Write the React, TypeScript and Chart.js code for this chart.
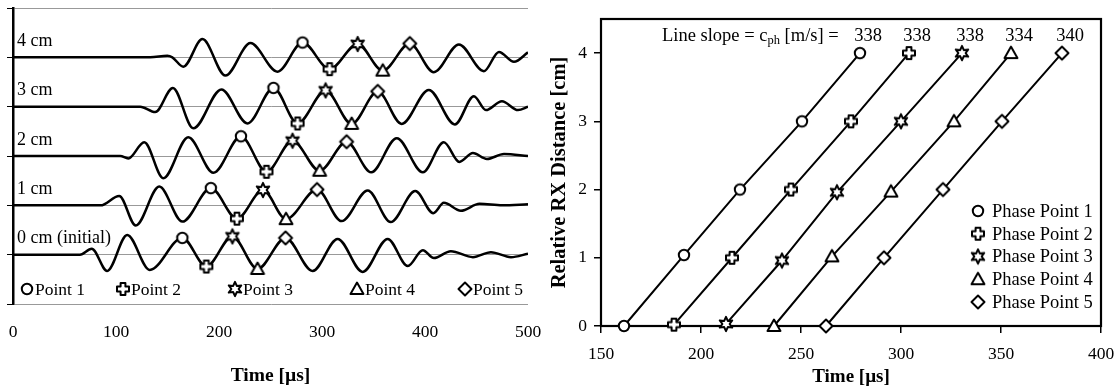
import React, { useEffect, useRef } from 'react';
import { Chart, registerables } from 'chart.js';

Chart.register(...registerables);

const FONT = "'Liberation Serif', 'Times New Roman', serif";

// ---------- Left panel: received waveforms ----------
const TRACE_LABELS = ['0 cm (initial)', '1 cm', '2 cm', '3 cm', '4 cm'];
const TRACE_OFFSETS = [0, 1, 2, 3, 4];
const LEFT_X_TICKS = [0, 100, 200, 300, 400, 500];

const WAVE_0CM_T = [0, 65, 76.4, 91.4, 110.9, 132.8, 164.4, 187.7, 213, 237.4, 264.6, 290.9, 315.2, 339.5, 363.8, 383.3, 397.9, 408.6, 425.1, 446.5, 464, 483.5, 500];
const WAVE_0CM_V = [0, 0, 0.12, -0.33, 0.4, -0.31, 0.34, -0.24, 0.37, -0.29, 0.34, -0.33, 0.32, -0.35, 0.32, -0.23, 0.09, -0.07, 0.07, -0.05, 0.05, -0.05, 0.02];

const WAVE_1CM_T = [0, 85, 103.1, 119.2, 142, 164.4, 192.1, 217.4, 242.7, 265.1, 295.2, 319.1, 344.4, 366.7, 390.6, 408.1, 418.3, 434.8, 453, 475, 500];
const WAVE_1CM_V = [0, 0, 0.19, -0.41, 0.38, -0.33, 0.35, -0.27, 0.31, -0.28, 0.32, -0.32, 0.3, -0.34, 0.29, -0.16, 0.05, -0.11, 0.03, 0, 0.02];

const WAVE_2CM_T = [0, 104.1, 111.9, 127.4, 145.9, 170.2, 194.6, 221.3, 246.1, 271.4, 297.7, 323.9, 347.8, 372.6, 397.9, 418.3, 433.4, 446.5, 460.1, 476.7, 500];
const WAVE_2CM_V = [0, 0, -0.05, 0.28, -0.45, 0.38, -0.34, 0.4, -0.32, 0.31, -0.3, 0.29, -0.33, 0.36, -0.33, 0.28, -0.12, 0.06, -0.06, 0.04, 0];

const WAVE_3CM_T = [0, 123.5, 138.1, 155.2, 175.1, 202.3, 227.6, 252.9, 276.3, 303.5, 328.8, 354.1, 377.4, 403.7, 429, 447.5, 459.1, 474.7, 490.3, 500];
const WAVE_3CM_V = [0, 0, -0.11, 0.38, -0.44, 0.35, -0.34, 0.38, -0.34, 0.33, -0.35, 0.31, -0.35, 0.34, -0.36, 0.21, -0.07, 0.11, -0.07, 0];

const WAVE_4CM_T = [0, 133.3, 149.8, 154.7, 165.4, 183.9, 206.2, 230.5, 256.8, 281.1, 307.4, 334.6, 359, 385.2, 408.6, 432.9, 457.2, 471.8, 486.4, 500];
const WAVE_4CM_V = [0, 0, 0.03, 0, -0.19, 0.37, -0.37, 0.29, -0.29, 0.3, -0.24, 0.27, -0.27, 0.28, -0.3, 0.26, -0.28, 0.11, -0.09, 0.1];

const TRACE_T = [WAVE_0CM_T, WAVE_1CM_T, WAVE_2CM_T, WAVE_3CM_T, WAVE_4CM_T];
const TRACE_V = [WAVE_0CM_V, WAVE_1CM_V, WAVE_2CM_V, WAVE_3CM_V, WAVE_4CM_V];

// phase-point markers on the waveforms (one per trace, 0 cm .. 4 cm)
const LEFT_P1_T = [164.4, 192.1, 221.3, 252.9, 281.1];
const LEFT_P1_V = [0.34, 0.35, 0.4, 0.38, 0.3];
const LEFT_P2_T = [187.7, 217.4, 246.1, 276.3, 307.4];
const LEFT_P2_V = [-0.24, -0.27, -0.32, -0.34, -0.24];
const LEFT_P3_T = [213, 242.7, 271.4, 303.5, 334.6];
const LEFT_P3_V = [0.37, 0.31, 0.31, 0.33, 0.27];
const LEFT_P4_T = [237.4, 265.1, 297.7, 328.8, 359];
const LEFT_P4_V = [-0.29, -0.28, -0.3, -0.35, -0.27];
const LEFT_P5_T = [264.6, 295.2, 323.9, 354.1, 385.2];
const LEFT_P5_V = [0.34, 0.32, 0.29, 0.31, 0.28];
const LEFT_MARK_T = [LEFT_P1_T, LEFT_P2_T, LEFT_P3_T, LEFT_P4_T, LEFT_P5_T];
const LEFT_MARK_V = [LEFT_P1_V, LEFT_P2_V, LEFT_P3_V, LEFT_P4_V, LEFT_P5_V];
const LEFT_LEGEND = ['Point 1', 'Point 2', 'Point 3', 'Point 4', 'Point 5'];

// ---------- Right panel: phase point arrival times ----------
const PP1_T = [161.5, 191.5, 219.5, 250.5, 279.5];
const PP1_D = [0, 1.04, 2, 3, 4];
const PP2_T = [186.5, 215.5, 245, 275, 304];
const PP2_D = [0.02, 1, 2, 3, 4];
const PP3_T = [212.5, 240.5, 268, 300, 330.5];
const PP3_D = [0.03, 0.96, 1.96, 3, 4];
const PP4_T = [236.5, 265.5, 295, 326.5, 355];
const PP4_D = [0, 1.02, 1.97, 3, 4];
const PP5_T = [262.5, 291.5, 321, 350.5, 380.5];
const PP5_D = [0, 1, 2, 3, 4];
const PP_T = [PP1_T, PP2_T, PP3_T, PP4_T, PP5_T];
const PP_D = [PP1_D, PP2_D, PP3_D, PP4_D, PP5_D];
const SLOPES = [338, 338, 338, 334, 340];
const RIGHT_LEGEND = ['Phase Point 1', 'Phase Point 2', 'Phase Point 3', 'Phase Point 4', 'Phase Point 5'];

const MARKER_KINDS = ['circle', 'cross', 'star', 'triangle', 'diamond'];

function makeMarker(kind: string): HTMLCanvasElement {
  const c = document.createElement('canvas');
  c.width = 18;
  c.height = 18;
  const g = c.getContext('2d') as CanvasRenderingContext2D;
  g.translate(9, 9);
  g.lineWidth = 2;
  g.strokeStyle = '#000';
  g.fillStyle = '#fff';
  g.lineJoin = 'round';
  g.beginPath();
  const poly = (pts: number[][]) => {
    g.moveTo(pts[0][0], pts[0][1]);
    for (let i = 1; i < pts.length; i++) g.lineTo(pts[i][0], pts[i][1]);
    g.closePath();
  };
  if (kind === 'circle') {
    g.arc(0, 0, 5.2, 0, Math.PI * 2);
  } else if (kind === 'cross') {
    const s = 6, a = 2.4;
    poly([[-a, -s], [a, -s], [a, -a], [s, -a], [s, a], [a, a], [a, s], [-a, s], [-a, a], [-s, a], [-s, -a], [-a, -a]]);
  } else if (kind === 'star') {
    const pts: number[][] = [];
    for (let i = 0; i < 12; i++) {
      const r = i % 2 === 0 ? 7.2 : 3.6;
      const ang = -Math.PI / 2 + (i * Math.PI) / 6;
      pts.push([r * Math.cos(ang), r * Math.sin(ang)]);
    }
    poly(pts);
  } else if (kind === 'triangle') {
    poly([[0, -6.5], [6.5, 5], [-6.5, 5]]);
  } else {
    poly([[0, -6.5], [6.5, 0], [0, 6.5], [-6.5, 0]]);
  }
  g.fill();
  g.stroke();
  return c;
}

const noHPad = (scale: any) => {
  scale.paddingLeft = 0;
  scale.paddingRight = 0;
};
const noVPad = (scale: any) => {
  scale.paddingTop = 0;
  scale.paddingBottom = 0;
};

export default function App() {
  const leftRef = useRef<HTMLCanvasElement>(null);
  const rightRef = useRef<HTMLCanvasElement>(null);

  useEffect(() => {
    const markers = MARKER_KINDS.map(makeMarker);

    // ----- left chart -----
    const leftDatasets: any[] = [];
    LEFT_MARK_T.forEach((ts, k) => {
      leftDatasets.push({
        type: 'line',
        data: ts.map((t, i) => ({ x: t, y: TRACE_OFFSETS[i] + LEFT_MARK_V[k][i] })),
        showLine: false,
        pointStyle: markers[k],
        pointRadius: 6,
        order: 0,
        clip: false,
      });
    });
    TRACE_T.forEach((ts, i) => {
      leftDatasets.push({
        type: 'line',
        data: ts.map((t, j) => ({ x: t, y: TRACE_OFFSETS[i] + TRACE_V[i][j] })),
        borderColor: '#000',
        borderWidth: 2.5,
        pointRadius: 0,
        cubicInterpolationMode: 'monotone',
        fill: false,
        order: 1,
      });
    });

    const leftDecor = {
      id: 'leftDecor',
      afterDraw(chart: any) {
        const { ctx, chartArea } = chart;
        const y = chart.scales.y;
        ctx.save();
        ctx.fillStyle = '#000';
        ctx.textBaseline = 'middle';
        ctx.textAlign = 'left';
        ctx.font = `18px ${FONT}`;
        TRACE_LABELS.forEach((lab, i) => {
          ctx.fillText(lab, chartArea.left + 4, y.getPixelForValue(TRACE_OFFSETS[i]) - 16);
        });
        ctx.font = `17.5px ${FONT}`;
        const ly = chartArea.bottom - 15;
        const lx = [14, 110, 222, 344, 452];
        LEFT_LEGEND.forEach((lab, k) => {
          const mx = chartArea.left + lx[k];
          ctx.drawImage(markers[k], mx - 9, ly - 9);
          ctx.fillText(lab, mx + 8, ly + 1);
        });
        ctx.restore();
      },
    };

    const left = new Chart(leftRef.current as HTMLCanvasElement, {
      type: 'line',
      data: { datasets: leftDatasets },
      options: {
        animation: false,
        responsive: false,
        devicePixelRatio: 1,
        layout: { padding: { left: 0, right: 17, top: 8, bottom: 0 } },
        plugins: { legend: { display: false }, tooltip: { enabled: false } },
        scales: {
          x: {
            type: 'linear',
            min: 0,
            max: 500,
            afterBuildTicks: (scale: any) => {
              scale.ticks = LEFT_X_TICKS.map((v) => ({ value: v }));
            },
            afterFit: (scale: any) => {
              scale.height = 86;
              noHPad(scale);
            },
            grid: { display: false, drawTicks: false },
            border: { display: false },
            ticks: { color: '#000', font: { family: FONT, size: 17.5 }, padding: 18, maxRotation: 0 },
            title: {
              display: true,
              text: 'Time [µs]',
              color: '#000',
              font: { family: FONT, size: 19.5, weight: 'bold' },
              padding: { top: 0, bottom: 2 },
            },
          },
          y: {
            type: 'linear',
            min: -1,
            max: 5,
            ticks: { display: false, stepSize: 1 },
            afterFit: (scale: any) => {
              scale.width = 13;
              noVPad(scale);
            },
            grid: { color: '#999', lineWidth: 1, tickColor: '#000', tickLength: 6, drawTicks: true },
            border: { display: true, color: '#000', width: 2.5 },
          },
        },
      },
      plugins: [leftDecor],
    } as any);

    // ----- right chart -----
    const rightDatasets = PP_T.map((ts, k) => ({
      type: 'line',
      data: ts.map((t, i) => ({ x: t, y: PP_D[k][i] })),
      borderColor: '#000',
      borderWidth: 2,
      pointStyle: markers[k],
      pointRadius: 6,
      fill: false,
      tension: 0,
      clip: false,
    }));

    const rightDecor = {
      id: 'rightDecor',
      beforeDatasetsDraw(chart: any) {
        const { ctx, chartArea } = chart;
        ctx.save();
        ctx.strokeStyle = '#000';
        ctx.lineWidth = 2.2;
        ctx.strokeRect(chartArea.left, chartArea.top, chartArea.right - chartArea.left, chartArea.bottom - chartArea.top);
        ctx.restore();
      },
      afterDraw(chart: any) {
        const { ctx, chartArea } = chart;
        const x = chart.scales.x;
        ctx.save();
        ctx.fillStyle = '#000';
        ctx.textBaseline = 'middle';
        ctx.textAlign = 'left';
        const ty = chartArea.top + 17;
        let tx = chartArea.left + 61;
        ctx.font = `18.5px ${FONT}`;
        const s1 = 'Line slope = c';
        ctx.fillText(s1, tx, ty);
        tx += ctx.measureText(s1).width;
        ctx.font = `12.5px ${FONT}`;
        ctx.fillText('ph', tx, ty + 5);
        tx += ctx.measureText('ph').width;
        ctx.font = `18.5px ${FONT}`;
        ctx.fillText(' [m/s] =', tx, ty);
        ctx.textAlign = 'center';
        SLOPES.forEach((s, k) => {
          ctx.fillText(String(s), x.getPixelForValue(PP_T[k][PP_T[k].length - 1]) + 8, ty);
        });
        ctx.textAlign = 'left';
        RIGHT_LEGEND.forEach((lab, k) => {
          const ly = chartArea.bottom - 115 + k * 22.75;
          const mx = chartArea.right - 123;
          ctx.drawImage(markers[k], mx - 9, ly - 9);
          ctx.fillText(lab, chartArea.right - 109, ly + 1);
        });
        ctx.restore();
      },
    };

    const right = new Chart(rightRef.current as HTMLCanvasElement, {
      type: 'line',
      data: { datasets: rightDatasets },
      options: {
        animation: false,
        responsive: false,
        devicePixelRatio: 1,
        layout: { padding: { left: 0, right: 17, top: 19, bottom: 0 } },
        plugins: { legend: { display: false }, tooltip: { enabled: false } },
        scales: {
          x: {
            type: 'linear',
            min: 150,
            max: 400,
            ticks: { stepSize: 50, color: '#000', font: { family: FONT, size: 17.5 }, padding: 11, maxRotation: 0 },
            afterFit: (scale: any) => {
              scale.height = 64;
              noHPad(scale);
            },
            grid: { display: true, drawOnChartArea: false, drawTicks: true, tickLength: 7, tickColor: '#000', lineWidth: 1.5 },
            border: { display: false },
            title: {
              display: true,
              text: 'Time [µs]',
              color: '#000',
              font: { family: FONT, size: 19, weight: 'bold' },
              padding: { top: 0, bottom: 2 },
            },
          },
          y: {
            type: 'linear',
            min: 0,
            max: 4.5,
            ticks: { stepSize: 1, includeBounds: false, color: '#000', font: { family: FONT, size: 17.5 }, padding: 7 },
            afterFit: (scale: any) => {
              scale.width = 56;
              noVPad(scale);
            },
            grid: { display: true, drawOnChartArea: false, drawTicks: true, tickLength: 7, tickColor: '#000', lineWidth: 1.5 },
            border: { display: false },
            title: {
              display: true,
              text: 'Relative RX Distance [cm]',
              color: '#000',
              font: { family: FONT, size: 20.5, weight: 'bold' },
              padding: { top: 2, bottom: 0 },
            },
          },
        },
      },
      plugins: [rightDecor],
    } as any);

    return () => {
      left.destroy();
      right.destroy();
    };
  }, []);

  return (
    <div style={{ position: 'fixed', left: 0, top: 0, width: 1118, height: 390, background: '#fff' }}>
      <canvas ref={leftRef} width={545} height={390} style={{ position: 'absolute', left: 0, top: 0 }} />
      <canvas ref={rightRef} width={573} height={390} style={{ position: 'absolute', left: 545, top: 0 }} />
    </div>
  );
}
